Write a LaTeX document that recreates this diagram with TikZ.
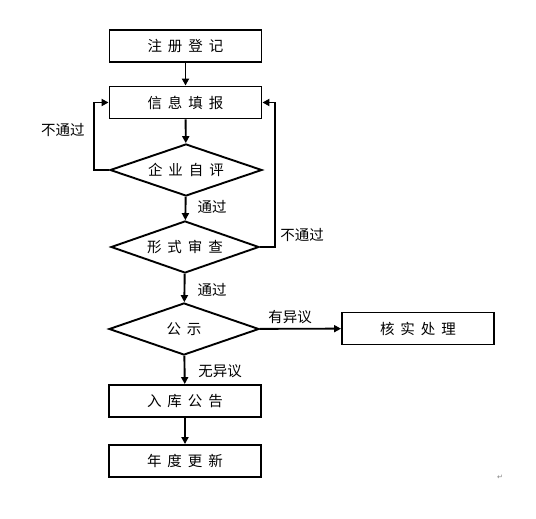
\documentclass[tikz,border=0pt]{standalone}
\usepackage{fontspec}
\setmainfont{Noto Sans CJK SC}
\newfontfamily\symfont{DejaVu Sans}
\usetikzlibrary{shapes.geometric,arrows.meta}
\newcommand\gp{\hspace{6pt}}
\begin{document}
\begin{tikzpicture}[x=1pt,y=-1pt,
  box/.style={draw,line width=1.9pt,minimum width=152pt,minimum height=32pt,inner sep=0pt,font=\fontsize{14.5}{16}\selectfont},
  dia/.style={draw,diamond,line width=1.9pt,aspect=2.9,minimum width=152pt,minimum height=52pt,inner sep=0pt,font=\fontsize{14.5}{16}\selectfont},
  arr/.style={line width=1.9pt,-{Triangle[length=7pt,width=7pt]}},
  lab/.style={font=\fontsize{14.5}{16}\selectfont,inner sep=0pt}]
\useasboundingbox[fill=white] (0,0) rectangle (536,519);
\node[box] (b1) at (185.5,46) {注\gp 册\gp 登\gp 记};
\node[box] (b2) at (185.5,102.5) {信\gp 息\gp 填\gp 报};
\node[dia] (d1) at (186,170) {企\gp 业\gp 自\gp 评};
\node[dia,minimum width=148pt] (d2) at (185,247) {形\gp 式\gp 审\gp 查};
\node[dia,minimum width=150pt] (d3) at (184,329) {公\gp 示};
\node[box] (b3) at (418,328.5) {核\gp 实\gp 处\gp 理};
\node[box] (b4) at (185,401) {入\gp 库\gp 公\gp 告};
\node[box] (b5) at (185,461) {年\gp 度\gp 更\gp 新};
\coordinate (l1) at (94,170);
\coordinate (r1) at (275,247);
\draw[arr] (b1) -- (b2);
\draw[arr] (b2) -- (d1);
\draw[arr] (d1) -- (d2);
\draw[arr] (d2) -- (d3);
\draw[arr] (d3) -- (b3);
\draw[arr] (d3) -- (b4);
\draw[arr] (b4) -- (b5);
\draw[arr] (d1.west) -- (l1) |- (b2.west);
\draw[arr] (d2.east) -- (r1) |- (b2.east);
\node[lab] (t1) at (63,130) {不通过};
\node[lab] (t2) at (212,207) {通过};
\node[lab] (t3) at (302,235) {不通过};
\node[lab] (t4) at (212,290) {通过};
\node[lab] (t5) at (290,317) {有异议};
\node[lab] (t6) at (220,371) {无异议};
\node[font=\symfont\fontsize{7}{8}\selectfont,text=gray] (rm) at (500,477) {↵};
\end{tikzpicture}
\end{document}
